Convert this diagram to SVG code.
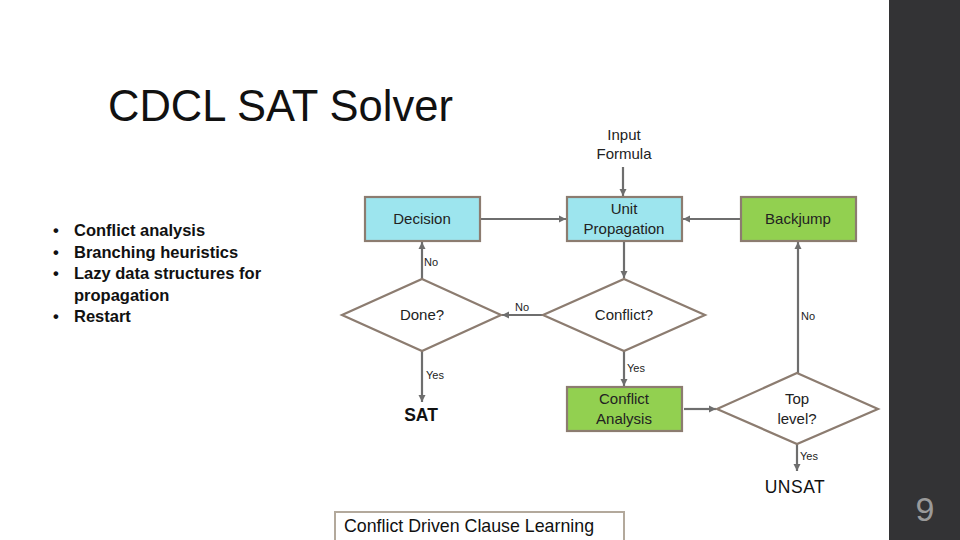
<svg xmlns="http://www.w3.org/2000/svg" width="960" height="540" viewBox="0 0 960 540">
<defs>
<marker id="ah" markerWidth="8" markerHeight="8" refX="7" refY="4" orient="auto" markerUnits="userSpaceOnUse">
<path d="M0,0.5 L7,4 L0,7.5 Z" fill="#6e6e6e"/>
</marker>
<style>
.t{font-family:"Liberation Sans",Arial,sans-serif;}
.lbl{font-family:"Liberation Sans",Arial,sans-serif;font-size:15px;fill:#222;text-anchor:middle;}
.sm{font-family:"Liberation Sans",Arial,sans-serif;font-size:11px;fill:#222;}
.box{stroke:#8c7c70;stroke-width:2.2;}
.cyan{fill:#9de5ee;}
.green{fill:#92d050;}
.dia{fill:#ffffff;stroke:#8c7c70;stroke-width:2.2;}
.c{stroke:#6e6e6e;stroke-width:2.2;fill:none;marker-end:url(#ah);}
.bul{font-family:"Liberation Sans",Arial,sans-serif;font-size:16.5px;font-weight:bold;fill:#111;}
</style>
</defs>
<rect x="0" y="0" width="960" height="540" fill="#ffffff"/>
<rect x="889" y="0" width="71" height="540" fill="#333335"/>
<text x="925" y="521" class="t" font-size="34" fill="#9a9a9a" text-anchor="middle">9</text>

<text x="108" y="121" class="t" font-size="43.5" fill="#111">CDCL SAT Solver</text>

<g id="bullets">
<text x="53" y="236" class="bul">•</text><text x="74" y="236" class="bul">Conflict analysis</text>
<text x="53" y="258" class="bul">•</text><text x="74" y="258" class="bul">Branching heuristics</text>
<text x="53" y="279" class="bul">•</text><text x="74" y="279" class="bul">Lazy data structures for</text>
<text x="74" y="301" class="bul">propagation</text>
<text x="53" y="322" class="bul">•</text><text x="74" y="322" class="bul">Restart</text>
</g>

<g id="input">
<text x="624" y="140" class="lbl">Input</text>
<text x="624" y="159" class="lbl">Formula</text>
</g>

<g id="connectors">
<line x1="623" y1="167" x2="623" y2="196" class="c"/>
<line x1="481" y1="219" x2="566" y2="219" class="c"/>
<line x1="740" y1="219" x2="683" y2="219" class="c"/>
<line x1="624" y1="242" x2="624" y2="278" class="c"/>
<line x1="543" y1="315" x2="502" y2="315" class="c"/>
<line x1="422" y1="279" x2="422" y2="242" class="c"/>
<line x1="422" y1="351" x2="422" y2="402" class="c"/>
<line x1="624" y1="351" x2="624" y2="386" class="c"/>
<line x1="684" y1="409" x2="716" y2="409" class="c"/>
<line x1="798" y1="373" x2="798" y2="242" class="c"/>
<line x1="797" y1="444" x2="797" y2="471" class="c"/>
<text x="424" y="266" class="sm">No</text>
<text x="515" y="311" class="sm">No</text>
<text x="426" y="379" class="sm">Yes</text>
<text x="627" y="372" class="sm">Yes</text>
<text x="801" y="320" class="sm">No</text>
<text x="800" y="460" class="sm">Yes</text>
</g>

<g id="decision">
<rect x="365" y="197" width="115" height="44" class="box cyan"/>
<text x="422" y="224" class="lbl">Decision</text>
</g>

<g id="unitprop">
<rect x="567" y="197" width="115" height="44" class="box cyan"/>
<text x="624" y="214" class="lbl">Unit</text>
<text x="624" y="234" class="lbl">Propagation</text>
</g>

<g id="backjump">
<rect x="741" y="197" width="115" height="44" class="box green"/>
<text x="798" y="224" class="lbl">Backjump</text>
</g>

<g id="done">
<polygon points="422,279 501,315 422,351 342,315" class="dia"/>
<text x="422" y="320" class="lbl">Done?</text>
</g>

<g id="conflict">
<polygon points="624,279 705,315 624,351 543,315" class="dia"/>
<text x="624" y="320" class="lbl">Conflict?</text>
</g>

<g id="analysis">
<rect x="567" y="387" width="115" height="44" class="box green"/>
<text x="624" y="404" class="lbl">Conflict</text>
<text x="624" y="424" class="lbl">Analysis</text>
</g>

<g id="toplevel">
<polygon points="797,373 878,409 797,444 717,409" class="dia"/>
<text x="797" y="404" class="lbl">Top</text>
<text x="797" y="424" class="lbl">level?</text>
</g>

<g id="sat">
<text x="421" y="421" class="t" font-size="17.5" font-weight="bold" fill="#111" text-anchor="middle">SAT</text>
</g>

<g id="unsat">
<text x="795" y="493" class="t" font-size="17.5" fill="#111" text-anchor="middle" letter-spacing="0.5">UNSAT</text>
</g>

<g id="cdcl">
<rect x="335" y="512" width="289" height="36" fill="#ffffff" stroke="#b3a99c" stroke-width="2"/>
<text x="344" y="532" class="t" font-size="17.8" fill="#111">Conflict Driven Clause Learning</text>
</g>
</svg>
